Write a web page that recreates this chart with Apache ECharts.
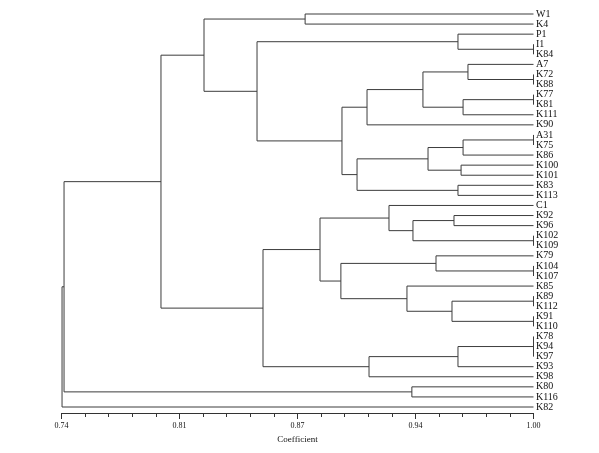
<!DOCTYPE html>
<html>
<head>
<meta charset="utf-8">
<script src="https://cdn.jsdelivr.net/npm/echarts@6/dist/echarts.min.js"></script>
<style>html,body{margin:0;padding:0;background:#fff}#c{width:599px;height:453px}</style>
</head>
<body>
<div id="c"></div>
<script>
// Leaves (top to bottom)
const leaves = ['W1','K4','P1','I1','K84','A7','K72','K88','K77','K81','K111','K90','A31','K75','K86','K100','K101','K83','K113','C1','K92','K96','K102','K109','K79','K104','K107','K85','K89','K112','K91','K110','K78','K94','K97','K93','K98','K80','K116','K82'];
// Internal nodes: ids start at leaves.length (40); children refer to leaf index or node id
const mergeChildren = [
  [3,4],[2,40],[0,1],[6,7],[5,43],[8,9],[45,10],[44,46],[47,11],[12,13],
  [49,14],[15,16],[50,51],[17,18],[52,53],[48,54],[41,55],[42,56],[20,21],[22,23],
  [58,59],[19,60],[25,26],[24,62],[28,29],[30,31],[64,65],[27,66],[63,67],[61,68],
  [32,33,34],[70,35],[71,36],[69,72],[57,73],[37,38],[74,75],[76,39]
];
// Similarity coefficient at which each node joins
const mergeHeights = [
  1.00,0.9584,0.8742,1.00,0.9639,1.00,0.9612,0.9391,0.9083,1.00,
  0.9612,0.9601,0.9419,0.9584,0.9028,0.8945,0.8477,0.8185,0.9562,1.00,
  0.9336,0.9204,1.00,0.9463,1.00,1.00,0.9551,0.9303,0.8939,0.8824,
  1.00,0.9584,0.9094,0.8510,0.7948,0.9330,0.7414,0.7403
];
const tickLabels = ['0.74','0.81','0.87','0.94','1.00'];
const axisMin = 0.74, axisStep = 0.065;

const toU = c => (c - axisMin) / axisStep;
const nLeaf = leaves.length;
const nodeX = [], nodeY = [];
for (let i = 0; i < nLeaf; i++) { nodeX[i] = toU(1.0); nodeY[i] = i; }
const segs = [];
mergeChildren.forEach((ch, k) => {
  const id = nLeaf + k;
  const x = toU(mergeHeights[k]);
  const ys = ch.map(c => nodeY[c]);
  const y0 = Math.min(...ys), y1 = Math.max(...ys);
  nodeX[id] = x; nodeY[id] = (y0 + y1) / 2;
  segs.push([x, y0, x, y1]);
  ch.forEach(c => segs.push([x, nodeY[c], nodeX[c], nodeY[c]]));
});

const chart = echarts.init(document.getElementById('c'), null, {renderer:'canvas'});
chart.setOption({
  animation: false,
  backgroundColor: '#fff',
  grid: {left: 61.5, right: 65.5, top: 14, bottom: 46, containLabel: false},
  xAxis: {
    type: 'value', min: 0, max: 4, interval: 1, offset: 6, position: 'bottom',
    axisLine: {show: true, onZero: false, lineStyle: {color: '#333', width: 1}},
    axisTick: {show: true, length: 6, inside: false, lineStyle: {color: '#333'}},
    minorTick: {show: true, splitNumber: 5, length: 4, lineStyle: {color: '#333'}},
    splitLine: {show: false},
    axisLabel: {margin: 9, fontFamily: 'Liberation Serif', fontSize: 8, color: '#111',
      formatter: v => tickLabels[Math.round(v)]},
    name: 'Coefficient', nameLocation: 'middle', nameGap: 21,
    nameTextStyle: {fontFamily: 'Liberation Serif', fontSize: 9, color: '#111'}
  },
  yAxis: {
    type: 'value', min: 0, max: nLeaf - 1, interval: 1, inverse: true, position: 'right',
    axisLine: {show: false, onZero: false}, axisTick: {show: false}, splitLine: {show: false},
    axisLabel: {margin: 2.5, fontFamily: 'Liberation Serif', fontSize: 10, color: '#111',
      formatter: v => leaves[Math.round(v)] || ''}
  },
  series: [{
    type: 'custom', clip: false,
    encode: {x: [0, 2], y: [1, 3]},
    data: segs,
    renderItem: (params, api) => {
      const p1 = api.coord([api.value(0), api.value(1)]);
      const p2 = api.coord([api.value(2), api.value(3)]);
      return {type: 'line', shape: {x1: p1[0], y1: p1[1], x2: p2[0], y2: p2[1]},
        style: {stroke: '#3c3c3c', lineWidth: 1}};
    }
  }]
});
</script>
</body>
</html>
